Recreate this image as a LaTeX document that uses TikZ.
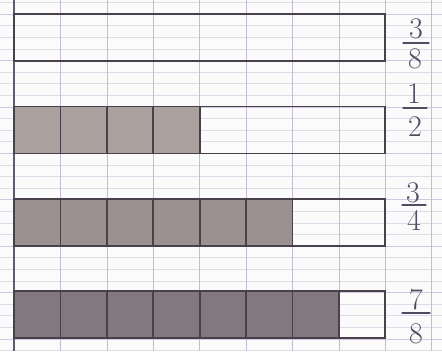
\documentclass[tikz,border=0pt]{standalone}
\definecolor{paper}{RGB}{252,251,252}
\definecolor{gridv}{RGB}{196,188,210}
\definecolor{gridh}{RGB}{226,218,233}
\definecolor{gridhd}{RGB}{210,200,224}
\definecolor{margin}{RGB}{95,90,110}
\definecolor{ink}{RGB}{72,64,74}
\definecolor{fracink}{RGB}{78,78,98}
\definecolor{pencilA}{RGB}{170,160,158}
\definecolor{pencilB}{RGB}{155,145,145}
\definecolor{pencilC}{RGB}{130,120,128}
\tikzset{
  gridvline/.style={draw=gridv, line width=0.6pt},
  gridhline/.style={draw=gridh, line width=0.5pt},
  gridhdark/.style={draw=gridhd, line width=0.6pt},
  marginline/.style={draw=margin, line width=1.4pt},
  barbox/.style={draw=ink, line width=1.8pt, minimum width=371.2pt, minimum height=47pt, anchor=north west, inner sep=0pt, outer sep=0pt},
  cellbox/.style={draw=ink, line width=1.8pt, minimum width=46.4pt, minimum height=47pt, anchor=north west, inner sep=0pt, outer sep=0pt},
  digit/.style={text=fracink, font=\fontsize{30}{34}\selectfont, inner sep=0pt},
  fracbar/.style={draw=fracink, line width=1.3pt, line cap=round}
}
\begin{document}
\begin{tikzpicture}[x=1pt,y=-1pt]
\useasboundingbox (0,0) rectangle (442,351);
\fill[paper] (0,0) rectangle (442,351);
% Seyes grid paper
\foreach \k in {-1,...,29} {
  \pgfmathsetmacro{\yy}{14+11.6*\k}
  \pgfmathtruncatemacro{\m}{mod(\k+8,4)}
  \ifnum\m=0
    \draw[gridhdark] (0,\yy) -- (442,\yy);
  \else
    \draw[gridhline] (0,\yy) -- (442,\yy);
  \fi
}
\foreach \k in {1,...,9} {
  \pgfmathsetmacro{\xx}{14+46.4*\k}
  \draw[gridvline] (\xx,0) -- (\xx,351);
}
\draw[marginline] (14,0) -- (14,351);

% Bar 1 : 3/8 (outline only)
\node[barbox] (bar1) at (14,14) {};

% Bar 2 : 1/2
\node[barbox] (bar2) at (14,106.4) {};
\foreach \i in {0,...,3} {
  \node[cellbox, fill=pencilA] (b2c\i) at ({14+46.4*\i},106.4) {};
}

% Bar 3 : 3/4
\node[barbox] (bar3) at (14,199.2) {};
\foreach \i in {0,...,5} {
  \node[cellbox, fill=pencilB] (b3c\i) at ({14+46.4*\i},199.2) {};
}

% Bar 4 : 7/8
\node[barbox] (bar4) at (14,291) {};
\foreach \i in {0,...,6} {
  \node[cellbox, fill=pencilC] (b4c\i) at ({14+46.4*\i},291) {};
}

% Fraction labels
\node[digit] (n1) at (416,29) {3};
\coordinate (l1) at (416,43);
\node[digit] (d1) at (415,59) {8};
\draw[fracbar] ([xshift=-13pt]l1) -- ([xshift=13pt]l1);

\node[digit] (n2) at (414,94) {1};
\coordinate (l2) at (415,108);
\node[digit] (d2) at (415,127) {2};
\draw[fracbar] ([xshift=-12pt]l2) -- ([xshift=12pt]l2);

\node[digit] (n3) at (413,193) {3};
\coordinate (l3) at (414,205);
\node[digit] (d3) at (414,220) {4};
\draw[fracbar] ([xshift=-12pt]l3) -- ([xshift=12pt]l3);

\node[digit] (n4) at (416,300) {7};
\coordinate (l4) at (416,313);
\node[digit] (d4) at (416,334) {8};
\draw[fracbar] ([xshift=-14pt]l4) -- ([xshift=14pt]l4);
\end{tikzpicture}
\end{document}
